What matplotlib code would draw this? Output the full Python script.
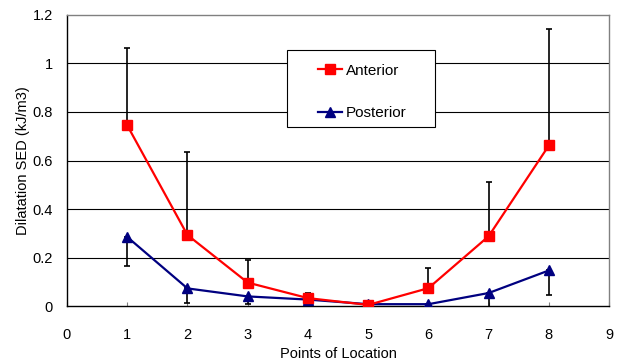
import numpy as np
import matplotlib
matplotlib.use("Agg")
import matplotlib.pyplot as plt
from matplotlib.patches import Rectangle

plt.rcParams["font.family"] = ["Liberation Sans", "DejaVu Sans"]

# ---------------------- 数据 ----------------------
points = [1, 2, 3, 4, 5, 6, 7, 8]
anterior = [0.745, 0.293, 0.097, 0.033, 0.005, 0.074, 0.288, 0.662]
anterior_err = [0.318, 0.342, 0.092, 0.022, 0.0, 0.083, 0.224, 0.48]
posterior = [0.285, 0.073, 0.040, 0.027, 0.008, 0.008, 0.054, 0.147]
posterior_err = [0.12, 0.06, 0.03, 0.02, 0.0, 0.0, 0.057, 0.103]

x_ticks = list(range(0, 10))
y_ticks = [0, 0.2, 0.4, 0.6, 0.8, 1, 1.2]
y_tick_labels = ["0", "0.2", "0.4", "0.6", "0.8", "1", "1.2"]

# ---------------------- 画布 ----------------------
fig = plt.figure(figsize=(6.26, 3.64), dpi=100)
ax = fig.add_axes([0.107, 0.159, 0.866, 0.8])

# 网格线
for v in y_ticks[1:-1]:
    ax.axhline(v, color="black", linewidth=0.8, zorder=1)

# 误差线：前侧向上，后侧向下
ax.errorbar(points, anterior, yerr=[np.zeros(len(anterior_err)), anterior_err],
            fmt="none", ecolor="black", elinewidth=1.2, capsize=2.5, capthick=1.2, zorder=2)
ax.errorbar(points, posterior, yerr=[posterior_err, np.zeros(len(posterior_err))],
            fmt="none", ecolor="black", elinewidth=1.2, capsize=2.5, capthick=1.2, zorder=2)

ax.plot(points, anterior, color="#ff0000", linewidth=1.6, marker="s", markersize=6.5,
        label="Anterior", zorder=4)
ax.plot(points, posterior, color="#000080", linewidth=1.6, marker="^", markersize=6.5,
        label="Posterior", zorder=3)

ax.set_xlim(0, 9)
ax.set_ylim(0, 1.2)
ax.set_xticks(x_ticks)
ax.set_yticks(y_ticks)
ax.set_yticklabels(y_tick_labels)
ax.tick_params(axis="x", direction="in", length=3, color="#808080", labelsize=10.5, pad=15.5)
ax.tick_params(axis="y", length=0, labelsize=10.5, pad=10)

for side in ["top", "right"]:
    ax.spines[side].set_color("#808080")
    ax.spines[side].set_linewidth(1.0)
for side in ["left", "bottom"]:
    ax.spines[side].set_color("black")
    ax.spines[side].set_linewidth(1.0)

ax.set_xlabel("Points of Location", fontsize=10.5, labelpad=4)
ax.set_ylabel("Dilatation SED (kJ/m3)", fontsize=10.5, labelpad=2)

# 图例：外框单独画，内边距左右比上下宽
ax.add_patch(Rectangle((0.406, 0.615), 0.273, 0.265, transform=ax.transAxes,
                       facecolor="white", edgecolor="black", linewidth=0.8, zorder=5))
leg = ax.legend(loc="upper left", bbox_to_anchor=(0.463, 0.832), fontsize=11,
                frameon=False, handlelength=1.6, handletextpad=0.2, labelspacing=1.85,
                borderpad=0, borderaxespad=0)
leg.set_zorder(6)

fig.savefig("out.png", dpi=100)
